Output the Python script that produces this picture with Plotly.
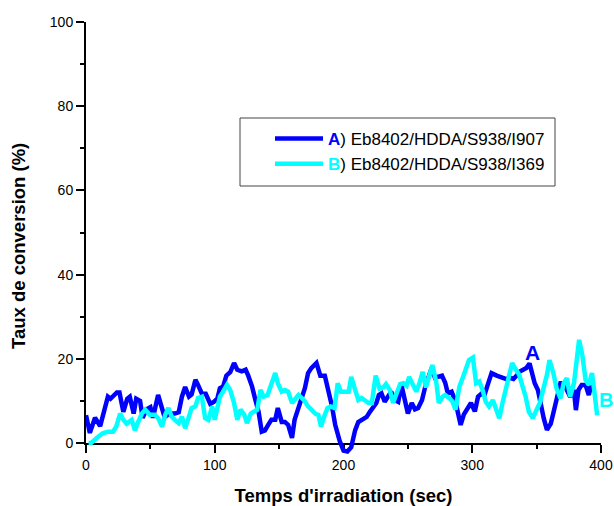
import plotly.graph_objects as go

# ---- data ----
a_x = [0, 3, 7, 11, 17, 19, 24, 26, 29, 32, 34, 37, 39, 42, 44, 47, 50, 52, 56, 59, 61, 65, 69, 72,
       74.5, 77, 80, 82, 85, 87, 90, 93, 96.5, 99, 102, 104, 106.5, 109, 112, 115, 117.5, 121, 124,
       126, 129, 131.5, 134, 136.5, 139, 141.5, 144, 147, 149, 152, 154.5, 157, 160, 162, 165,
       167.5, 170, 172.5, 175, 179, 182, 185.5, 188, 191, 193.5, 197, 200, 203, 206, 209, 211.5,
       214, 218, 220.5, 223, 225.5, 227.5, 229.5, 232, 235, 237, 240, 242.5, 245, 248, 250, 253,
       255.5, 258, 261, 263.5, 266, 268.5, 271, 273.5, 276.5, 279, 281, 284, 287, 289, 291, 293.5,
       296, 299, 302, 304.5, 307, 309.5, 312, 315, 319, 323, 326.5, 329, 332, 334.5, 337, 339.5,
       342, 344.5, 346.5, 348.5, 351, 353, 355.5, 358, 361, 363.5, 366, 368.5, 371, 374, 376, 379,
       380.5, 382.5, 385, 388, 390.5, 392.5]
a_y = [6.6, 2.4, 6, 4, 11, 10.5, 12, 12, 7.4, 10.5, 11, 7, 10.5, 10, 6, 8, 8.5, 6, 11.4, 8.4, 6.2, 7,
       7, 7.3, 11, 13.3, 11, 11.5, 15, 13.8, 11.7, 11.7, 9.3, 9.7, 10.5, 13, 13.4, 16, 16.8, 19, 17.4,
       17, 17.4, 16, 13.4, 10.3, 7.5, 2.7, 3, 4.3, 5.5, 5.5, 8.3, 5, 5, 4.3, 1.2, 5.5, 8.3, 11.4, 13,
       16.6, 17.8, 19, 16, 16, 12.8, 8.8, 4.4, 0.5, -1.8, -2, -1, 3, 5, 5.5, 6.2, 7.4, 8.3, 9.5, 11.4,
       11.8, 9.8, 11, 12.2, 10.2, 9.8, 13.8, 9.5, 7, 9.5, 8, 8.3, 10.2, 13.4, 15.7, 17.8, 15.5, 15.7,
       16, 14.3, 11.8, 12.2, 9.8, 7, 4.3, 6.8, 8, 9.5, 7.5, 11, 11.7, 11.4, 13.8, 16.6, 16, 15.5,
       15.2, 15.5, 15.2, 16, 17, 17.4, 17.8, 18.9, 16.1, 14.2, 12.6, 9, 5.9, 3.1, 4.6, 7.8, 11, 14.2,
       14.2, 12.3, 11, 12.6, 7.8, 12.6, 13.8, 13.8, 11.4, 13.8]

b_x = [2, 4, 9.5, 13, 17, 21, 23.5, 26.5, 29, 31.5, 35.5, 38, 40.5, 43.5, 46, 49.5, 53.5, 56, 59, 61.5,
       64, 66.5, 69, 72, 74.5, 77, 80, 82, 85, 87, 90, 92.5, 95, 98, 100, 102, 104, 106.5, 109.5, 112,
       115, 117.5, 120, 123, 125, 128, 130.5, 133, 135.5, 138, 141, 143.5, 147, 149, 152, 154.5,
       157, 160, 162, 165, 167.5, 170, 172.5, 175, 178, 180.5, 182.5, 185, 187.5, 190, 193, 195.5,
       198, 200, 204, 206, 209, 211.5, 214, 217, 219.5, 222, 225, 228, 231, 233, 236, 238.5, 241,
       244, 246.5, 249, 251, 254, 256.5, 259, 261.5, 264, 267, 269, 272, 274, 277, 279, 282, 284.5,
       287, 290, 292.5, 295.5, 297.5, 300.5, 303, 305.5, 308, 310.5, 313, 316, 318.5, 321, 323.5,
       326, 328.5, 331, 334, 336.5, 339, 341.5, 344, 347, 350, 352.5, 355, 358, 360, 363, 365.5,
       368.5, 371, 373.5, 376, 379, 381, 383, 385.5, 388, 390.5, 393, 395, 397]
b_y = [0, 0, 1.5, 2.3, 2.7, 2.7, 3.9, 7, 5.5, 4.6, 5.5, 3, 5, 7, 7.9, 6.7, 6.7, 5.9, 3.9, 6.7, 8.3, 6.3,
       5.5, 4.7, 6.3, 3.5, 6.3, 8.3, 8.7, 10.7, 11, 5.9, 5.5, 8.7, 5.5, 8.7, 11, 12.2, 13.8, 12.6,
       9.5, 5.5, 7.9, 6.7, 4.7, 7, 7.5, 7.9, 12.6, 11, 11.4, 13.8, 16.6, 14.2, 12.2, 12.6, 12.2, 9.5,
       10.2, 11.4, 10.7, 9.9, 8.7, 7.9, 7, 6.7, 3.9, 6.3, 8.3, 8.7, 8.3, 14.2, 12.2, 12.2, 12.2, 15.7,
       12.9, 10.2, 10.7, 9.9, 9.5, 9.5, 16, 12.9, 13.2, 14, 12.6, 9.5, 11.8, 14, 14.2, 13.6, 15.7, 14,
       12.2, 14.2, 16.9, 13.2, 16.9, 18.5, 14.6, 9.5, 11, 11.4, 10.7, 9.9, 7.9, 13.4, 15.4, 17.8,
       19.7, 20.3, 14.2, 14.6, 12.6, 9.8, 8.7, 10.2, 7.9, 5.9, 9.5, 12.6, 16.6, 19, 17.4, 16.2, 13.5,
       11, 7.4, 5.9, 7.9, 9.5, 12.6, 16.2, 19.7, 16.6, 13, 10.6, 14.2, 15.4, 11, 14.2, 19.3, 24.5,
       20.9, 15, 13.8, 16.6, 11.8, 6.6]

x_ticks = [0, 100, 200, 300, 400]
y_ticks = [0, 20, 40, 60, 80, 100]

name_a = "<b><span style='color:#0000FF'>A</span></b>) Eb8402/HDDA/S938/I907"
name_b = "<b><span style='color:#00FFFF'>B</span></b>) Eb8402/HDDA/S938/I369"

# ---- geometry ----
W, H = 614, 506
ML, MR, MT, MB = 86, 13, 22, 50
plot_w = W - ML - MR           # 515
plot_h = H - MT - MB           # 434
extra = 13                      # px below y=0 where lines may still show
dom0 = extra / plot_h
ymin2 = -100 * extra / (plot_h - extra)


def px_x(px):
    return (px - ML) / plot_w


def px_y(py):
    return (H - MB - py) / plot_h


FONT = "Liberation Sans, Arial, sans-serif"

fig = go.Figure()
fig.add_trace(go.Scatter(x=a_x, y=a_y, mode="lines", name=name_a,
                         line=dict(color="#0000FF", width=4.5),
                         xaxis="x", yaxis="y2"))
fig.add_trace(go.Scatter(x=b_x, y=b_y, mode="lines", name=name_b,
                         line=dict(color="#00FFFF", width=4.5),
                         xaxis="x", yaxis="y2"))

axis_common = dict(showgrid=False, zeroline=False, showline=True, linecolor="black",
                   linewidth=2, ticks="outside", ticklen=8, tickwidth=1.5, tickcolor="black",
                   automargin=False,
                   tickfont=dict(size=14, color="black", family=FONT))

fig.update_layout(
    width=W, height=H,
    margin=dict(l=ML, r=MR, t=MT, b=MB, autoexpand=False),
    paper_bgcolor="white", plot_bgcolor="rgba(0,0,0,0)",
    font=dict(family=FONT, color="black"),
    showlegend=True,
    xaxis=dict(range=[0, 400], tickvals=x_ticks, anchor="y",
               minor=dict(dtick=50, tick0=0, ticks="outside", ticklen=4, tickwidth=1.5,
                          tickcolor="black"),
               title=dict(text="<b>Temps d'irradiation (sec)</b>", standoff=18,
                          font=dict(size=18.5, family=FONT, color="black")),
               **axis_common),
    yaxis=dict(range=[0, 100], tickvals=y_ticks, domain=[dom0, 1], anchor="x",
               minor=dict(dtick=10, tick0=0, ticks="outside", ticklen=4, tickwidth=1.5,
                          tickcolor="black"),
               **axis_common),
    yaxis2=dict(range=[ymin2, 100], domain=[0, 1], anchor="x", visible=False,
                showgrid=False, zeroline=False),
    legend=dict(x=px_x(270), y=px_y(121), xanchor="left", yanchor="top",
                bgcolor="rgba(0,0,0,0)", borderwidth=0, itemwidth=48,
                font=dict(size=17, family=FONT, color="black")),
    shapes=[dict(type="rect", xref="paper", yref="paper",
                 x0=px_x(240), x1=px_x(555), y0=px_y(186), y1=px_y(118),
                 line=dict(color="#444444", width=1), fillcolor="rgba(0,0,0,0)")],
    annotations=[
        dict(x=px_x(18), y=px_y(246), xref="paper", yref="paper",
             xanchor="center", yanchor="middle",
             text="<b>Taux de conversion (%)</b>", textangle=-90, showarrow=False,
             font=dict(size=18.5, family=FONT, color="black")),
        dict(x=347, y=21.4, xref="x", yref="y", xanchor="center", yanchor="middle",
             text="<b>A</b>", showarrow=False,
             font=dict(size=21, color="#0000FF", family=FONT)),
        dict(x=403.5 / 400, y=10.2, xref="paper", yref="y", xanchor="center", yanchor="middle",
             text="<b>B</b>", showarrow=False,
             font=dict(size=20, color="#00FFFF", family=FONT)),
    ],
)

fig.write_html("out.html", config={"displayModeBar": False},
               post_script="document.body.style.margin='0px';document.body.style.padding='0px';")
